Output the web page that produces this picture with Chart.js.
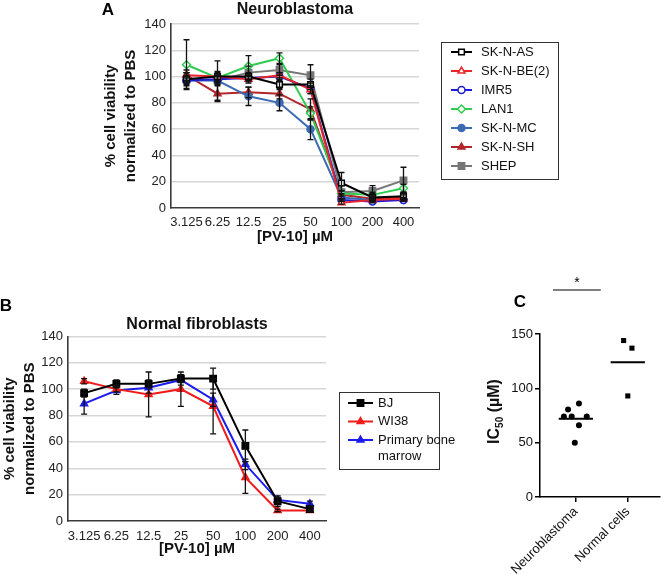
<!DOCTYPE html>
<html>
<head>
<meta charset="utf-8">
<script src="https://cdn.jsdelivr.net/npm/chart.js@4.4.1/dist/chart.umd.min.js"></script>
<style>
  body { margin: 0; background: #fff; width: 664px; height: 574px; position: relative; overflow: hidden; }
  canvas { position: absolute; left: 0; top: 0; }
</style>
</head>
<body>
<canvas id="chartA" width="664" height="574"></canvas>
<canvas id="chartB" width="664" height="574"></canvas>
<canvas id="chartC" width="664" height="574"></canvas>
<script>
// ---- data ----
const doses = ['3.125', '6.25', '12.5', '25', '50', '100', '200', '400'];

// A: neuroblastoma lines, % viability
const skNAs   = [98, 100, 100, 94, 94, 19, 8, 9];
const skNBe2  = [101, 100, 98, 101, 90, 4, 6, 7];
const imr5    = [97, 98, 99, 100, 91, 6, 5, 6];
const lan1    = [109, 99, 108, 114, 72, 11, 10, 15];
const skNMc   = [97, 97, 85, 80, 60, 8, 6, 6];
const skNSh   = [101, 87, 88, 87, 75, 10, 7, 8];
const shep    = [98, 97, 103, 105, 101, 12, 13, 21];

const skNAsErr  = [3, 4, 3, 4, 4, 8, 3, 3];
const skNBe2Err = [2, 3, 3, 2, 3, 1, 1, 1];
const imr5Err   = [3, 3, 3, 3, 4, 1, 1, 1];
const lan1Err   = [19, 3, 8, 4, 5, 2, 2, 3];
const skNMcErr  = [6, 3, 7, 6, 8, 2, 1, 1];
const skNShErr  = [4, 6, 4, 4, 8, 3, 2, 2];
const shepErr   = [5, 15, 5, 4, 8, 5, 4, 10];

// B: normal fibroblasts
const bj        = [97, 104, 104, 108, 108, 57, 15, 9];
const wi38      = [106, 100, 96, 100, 87, 33, 8, 8];
const marrow    = [89, 99, 101, 107, 92, 43, 16, 13];
const bjErr     = [3, 3, 3, 3, 8, 12, 4, 2];
const wi38Err   = [2, 2, 17, 13, 21, 12, 1, 1];
const marrowErr = [8, 3, 4, 4, 5, 4, 2, 2];

// C: IC50 values
const groups     = ['Neuroblastoma', 'Normal cells'];
const nbIc50     = [80.5, 86, 74, 74, 74, 66, 50];
const nbJitter   = [-0.15, 0.06, -0.23, -0.08, 0.21, 0.06, -0.02];
const normIc50   = [144, 137, 93];
const normJitter = [-0.08, 0.08, 0];
const groupMeans = [72, 124];

// ---- shared ----
const FAMILY = "'Liberation Sans', Arial, Helvetica, sans-serif";
Chart.defaults.font.family = FAMILY;
Chart.defaults.color = '#1a1a1a';

const errorBars = {
  id: 'errorBars',
  afterDatasetsDraw(chart) {
    const ctx = chart.ctx, y = chart.scales.y;
    ctx.save();
    ctx.strokeStyle = '#111';
    ctx.lineWidth = 1.3;
    chart.data.datasets.forEach((ds, i) => {
      if (!ds.errors) return;
      const meta = chart.getDatasetMeta(i);
      meta.data.forEach((pt, j) => {
        const v = ds.data[j], e = ds.errors[j];
        if (!e) return;
        const top = y.getPixelForValue(v + e);
        const bot = y.getPixelForValue(Math.max(0, v - e));
        ctx.beginPath();
        ctx.moveTo(pt.x, top); ctx.lineTo(pt.x, bot);
        ctx.moveTo(pt.x - 3, top); ctx.lineTo(pt.x + 3, top);
        ctx.moveTo(pt.x - 3, bot); ctx.lineTo(pt.x + 3, bot);
        ctx.stroke();
      });
    });
    ctx.restore();
  }
};

function wrapText(ctx, text, maxW) {
  const words = text.split(' ');
  const lines = [];
  let cur = '';
  words.forEach(w => {
    const test = cur ? cur + ' ' + w : w;
    if (cur && ctx.measureText(test).width > maxW) { lines.push(cur); cur = w; }
    else cur = test;
  });
  lines.push(cur);
  return lines;
}

const boxLegend = {
  id: 'boxLegend',
  afterDraw(chart, args, o) {
    if (!o.box) return;
    const ctx = chart.ctx;
    ctx.save();
    ctx.strokeStyle = '#333';
    ctx.lineWidth = 1;
    ctx.strokeRect(o.box[0] + 0.5, o.box[1] + 0.5, o.box[2], o.box[3]);
    ctx.font = '13px ' + FAMILY;
    ctx.textBaseline = 'middle';
    ctx.textAlign = 'left';
    let y = o.firstY;
    chart.data.datasets.forEach(ds => {
      ctx.strokeStyle = ds.borderColor;
      ctx.lineWidth = 2;
      ctx.beginPath(); ctx.moveTo(o.lineX1, y); ctx.lineTo(o.lineX2, y); ctx.stroke();
      ctx.fillStyle = ds.pointBackgroundColor;
      ctx.lineWidth = ds.pointBorderWidth;
      Chart.helpers.drawPoint(ctx, {
        pointStyle: ds.pointStyle, radius: ds.pointRadius,
        borderWidth: ds.pointBorderWidth, rotation: 0
      }, (o.lineX1 + o.lineX2) / 2, y);
      ctx.fillStyle = '#111';
      const lines = wrapText(ctx, ds.label, o.maxTextW);
      lines.forEach((ln, k) => ctx.fillText(ln, o.textX, y + k * o.lineH));
      y += o.rowH + (lines.length - 1) * o.lineH;
    });
    ctx.restore();
  }
};

const panelText = {
  id: 'panelText',
  afterDraw(chart, args, o) {
    const ctx = chart.ctx;
    (o.items || []).forEach(t => {
      ctx.save();
      ctx.font = t.font;
      ctx.fillStyle = '#000';
      ctx.textAlign = 'center';
      ctx.textBaseline = 'middle';
      ctx.fillText(t.text, t.x, t.y);
      ctx.restore();
    });
  }
};

function lineSet(label, data, errors, color, style, filled, radius) {
  return {
    label, data, errors,
    borderColor: color,
    backgroundColor: color,
    borderWidth: 2,
    pointStyle: style,
    pointRadius: radius || 3.5,
    pointBorderWidth: 1.5,
    pointBorderColor: color,
    pointBackgroundColor: filled ? color : '#ffffff',
    tension: 0
  };
}

function viabilityScales(yWidth, xHeight, tickPad, titlePadTop, xTitlePadBottom) {
  return {
    x: {
      type: 'category',
      offset: true,
      grid: { display: false, drawTicks: false },
      border: { color: '#3a3a3a', width: 1.6 },
      ticks: { color: '#222', font: { size: 13 }, padding: tickPad, maxRotation: 0, autoSkip: false },
      title: {
        display: true, text: '[PV-10] µM', color: '#111',
        font: { size: 15, weight: 'bold', lineHeight: 1.333 },
        padding: { top: 0, bottom: xTitlePadBottom }
      },
      afterFit: s => { s.height = xHeight; }
    },
    y: {
      min: 0, max: 140,
      grid: {
        color: c => (c.tick && c.tick.value === 0) ? 'rgba(0,0,0,0)' : '#d6d6d6',
        lineWidth: 1.5, drawTicks: false
      },
      border: { color: '#3a3a3a', width: 1.6 },
      ticks: { stepSize: 20, padding: 5, color: '#222', font: { size: 13 } },
      title: {
        display: true, text: ['% cell viability', 'normalized to PBS'], color: '#111',
        font: { size: 15, weight: 'bold', lineHeight: 1.333 },
        padding: { top: titlePadTop, bottom: 0 }
      },
      afterFit: s => { s.width = yWidth; }
    }
  };
}

// ---- A ----
new Chart(document.getElementById('chartA'), {
  type: 'line',
  data: {
    labels: doses,
    datasets: [
      lineSet('SK-N-AS', skNAs, skNAsErr, '#000000', 'rect', false, 4),
      lineSet('SK-N-BE(2)', skNBe2, skNBe2Err, '#e8262a', 'triangle', false, 4),
      lineSet('IMR5', imr5, imr5Err, '#1c1cd6', 'circle', false, 3.5),
      lineSet('LAN1', lan1, lan1Err, '#2ecc50', 'rectRot', false, 4),
      lineSet('SK-N-MC', skNMc, skNMcErr, '#3b6cb3', 'circle', true, 3.5),
      lineSet('SK-N-SH', skNSh, skNShErr, '#b0262a', 'triangle', true, 4),
      lineSet('SHEP', shep, shepErr, '#767676', 'rect', true, 4.5)
    ]
  },
  options: {
    responsive: false,
    animation: false,
    events: [],
    layout: { padding: { left: 91, top: 0, right: 245, bottom: 324 } },
    scales: viabilityScales(80, 42, 7, 10, 3),
    plugins: {
      legend: { display: false },
      tooltip: { enabled: false },
      title: {
        display: true, text: 'Neuroblastoma', fullSize: false, color: '#111',
        font: { size: 16, weight: 'bold' }, padding: { top: 0.4, bottom: 4.4 }
      },
      boxLegend: { box: [441, 42, 117, 137], firstY: 52, rowH: 19, lineH: 16,
                   lineX1: 451, lineX2: 472, textX: 481, maxTextW: 200 },
      panelText: { items: [{ text: 'A', x: 108, y: 10, font: 'bold 17px ' + FAMILY }] }
    }
  },
  plugins: [errorBars, boxLegend, panelText]
});

// ---- B ----
new Chart(document.getElementById('chartB'), {
  type: 'line',
  data: {
    labels: doses,
    datasets: [
      lineSet('BJ', bj, bjErr, '#000000', 'rect', true, 4.5),
      lineSet('WI38', wi38, wi38Err, '#f01c1c', 'triangle', true, 4),
      lineSet('Primary bone marrow', marrow, marrowErr, '#1c1cee', 'triangle', true, 4)
    ]
  },
  options: {
    responsive: false,
    animation: false,
    events: [],
    layout: { padding: { left: 0, top: 300, right: 338, bottom: 14 } },
    scales: viabilityScales(68, 39, 8, 0, 1),
    plugins: {
      legend: { display: false },
      tooltip: { enabled: false },
      title: {
        display: true, text: 'Normal fibroblasts', fullSize: false, color: '#111',
        font: { size: 16, weight: 'bold' }, padding: { top: 15, bottom: 2.2 }
      },
      boxLegend: { box: [339, 392, 100, 77], firstY: 403, rowH: 18.5, lineH: 16,
                   lineX1: 348, lineX2: 373, textX: 378, maxTextW: 82 },
      panelText: { items: [{ text: 'B', x: 6, y: 306, font: 'bold 17px ' + FAMILY }] }
    }
  },
  plugins: [errorBars, boxLegend, panelText]
});

// ---- C ----
const halfW = 0.33;
const ic50Title = {
  id: 'ic50Title',
  afterDraw(chart) {
    const ctx = chart.ctx, ys = chart.scales.y, xs = chart.scales.x;
    ctx.save();
    // y-axis title with subscript
    const big = 'bold 16px ' + FAMILY, small = 'bold 10px ' + FAMILY;
    ctx.font = big; const w1 = ctx.measureText('IC').width;
    const w3 = ctx.measureText(' (µM)').width;
    ctx.font = small; const w2 = ctx.measureText('50').width;
    const total = w1 + w2 + w3;
    ctx.translate(495, (chart.chartArea.top + chart.chartArea.bottom) / 2 - 4);
    ctx.rotate(-Math.PI / 2);
    ctx.fillStyle = '#111';
    ctx.textBaseline = 'middle';
    ctx.textAlign = 'left';
    let x = -total / 2;
    ctx.font = big; ctx.fillText('IC', x, 0); x += w1;
    ctx.font = small; ctx.fillText('50', x, 5); x += w2;
    ctx.font = big; ctx.fillText(' (µM)', x, 0);
    ctx.restore();
    // significance bar
    ctx.save();
    const yBar = ys.getPixelForValue(190.5);
    ctx.strokeStyle = '#000'; ctx.lineWidth = 1.2;
    ctx.beginPath();
    ctx.moveTo(xs.getPixelForValue(-0.44), yBar);
    ctx.lineTo(xs.getPixelForValue(0.48), yBar);
    ctx.stroke();
    ctx.fillStyle = '#000';
    ctx.font = '14px ' + FAMILY;
    ctx.textAlign = 'center'; ctx.textBaseline = 'middle';
    ctx.fillText('*', xs.getPixelForValue(0.02), yBar - 7);
    ctx.restore();
  }
};

new Chart(document.getElementById('chartC'), {
  type: 'scatter',
  data: {
    datasets: [
      { label: groups[0], data: nbIc50.map((v, i) => ({ x: 0 + nbJitter[i], y: v })),
        pointStyle: 'circle', pointRadius: 3, backgroundColor: '#000', borderColor: '#000', pointBorderWidth: 0 },
      { label: groups[1], data: normIc50.map((v, i) => ({ x: 1 + normJitter[i], y: v })),
        pointStyle: 'rect', pointRadius: 3.6, backgroundColor: '#000', borderColor: '#000', pointBorderWidth: 0 },
      ...groupMeans.map((m, g) => ({
        label: groups[g] + ' mean',
        data: [{ x: g - halfW, y: m }, { x: g + halfW, y: m }],
        showLine: true, pointRadius: 0, borderColor: '#000', borderWidth: 2
      }))
    ]
  },
  options: {
    responsive: false,
    animation: false,
    events: [],
    layout: { padding: { left: 460, top: 334, right: 4, bottom: 0 } },
    scales: {
      x: {
        type: 'linear', min: -0.69, max: 1.62,
        afterBuildTicks: s => { s.ticks = groups.map((g, i) => ({ value: i })); },
        grid: { drawOnChartArea: false, drawTicks: true, tickLength: 5, color: '#000', lineWidth: 1.5 },
        border: { color: '#000', width: 1.5 },
        ticks: {
          autoSkip: false, minRotation: 45, maxRotation: 45, padding: 2,
          color: '#111', font: { size: 13 },
          callback: v => groups[v] !== undefined ? groups[v] : ''
        },
        afterFit: s => { s.height = 77; }
      },
      y: {
        min: 0, max: 150,
        grid: { drawOnChartArea: false, drawTicks: true, tickLength: 5, color: '#000', lineWidth: 1.5 },
        border: { color: '#000', width: 1.5 },
        ticks: { stepSize: 50, padding: 2, color: '#111', font: { size: 13 } },
        afterFit: s => { s.width = 80; }
      }
    },
    plugins: {
      legend: { display: false },
      tooltip: { enabled: false },
      panelText: { items: [{ text: 'C', x: 520, y: 302, font: 'bold 17px ' + FAMILY }] }
    }
  },
  plugins: [ic50Title, panelText]
});
</script>
</body>
</html>
